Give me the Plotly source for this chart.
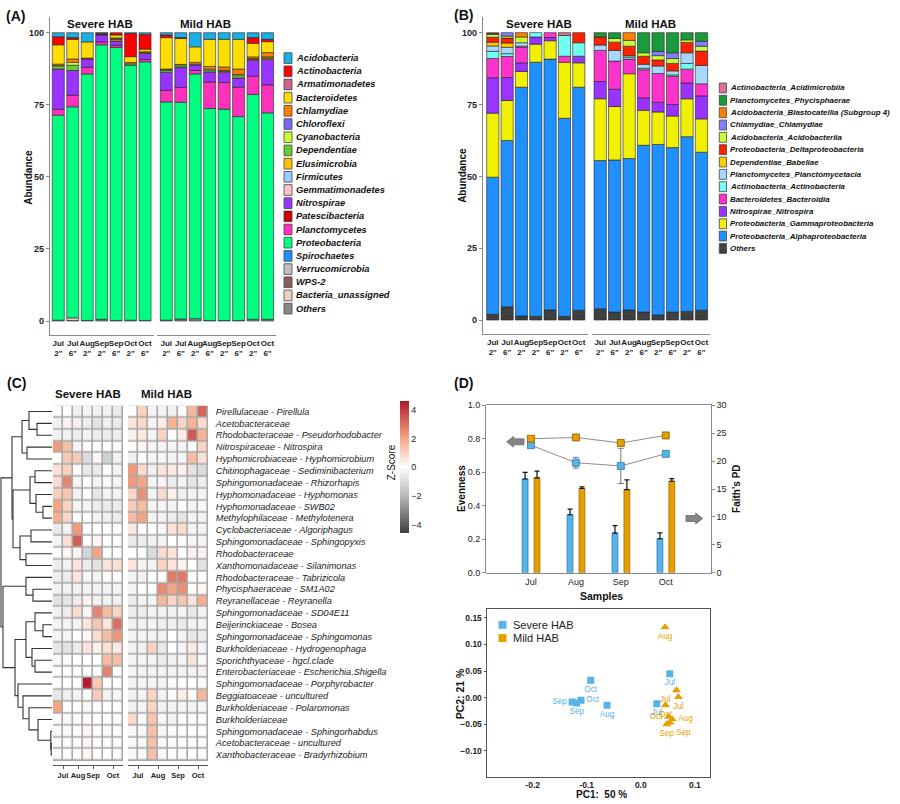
import plotly.graph_objects as go

W, H = 900, 804
def PX(v): return v / W
def PY(v): return 1 - v / H

FONT = "Liberation Sans, Arial, sans-serif"

# ---------------- Panel A data (phylum level, % abundance) ----------------
severe_samples = ['Jul<br>2"', 'Jul<br>6"', 'Aug<br>2"', 'Sep<br>2"', 'Sep<br>6"', 'Oct<br>2"', 'Oct<br>6"']
mild_samples = ['Jul<br>2"', 'Jul<br>6"', 'Aug<br>2"', 'Aug<br>6"', 'Sep<br>2"', 'Sep<br>6"', 'Oct<br>2"', 'Oct<br>6"']

phyla = ['Acidobacteria', 'Actinobacteria', 'Armatimonadetes', 'Bacteroidetes', 'Chlamydiae',
         'Chloroflexi', 'Cyanobacteria', 'Dependentiae', 'Elusimicrobia', 'Firmicutes',
         'Gemmatimonadetes', 'Nitrospirae', 'Patescibacteria', 'Planctomycetes', 'Proteobacteria',
         'Spirochaetes', 'Verrucomicrobia', 'WPS-2', 'Bacteria_unassigned', 'Others']
phyla_colors = ['#1AAFE6', '#FF0000', '#CC6688', '#FFDD00', '#FF8000',
                '#7B68EE', '#CCFF33', '#66CC33', '#FFC000', '#99CCFF',
                '#FFC0CB', '#9933FF', '#CC0000', '#FF33BB', '#00FF80',
                '#1E90FF', '#C0C0C0', '#8B5F5F', '#EBD2C8', '#888888']
a_severe = [
    [1.4, 1.7, 3.2, 0.2, 0, 0.3, 0.6],
    [2.8, 0.6, 0, 0.4, 0.8, 8.0, 5.1],
    [0, 0, 0, 0, 0, 0, 0],
    [6.7, 6.8, 5.6, 0.2, 1.0, 2.0, 0.9],
    [0.4, 1.2, 0.3, 0, 0.3, 0.5, 0.3],
    [0, 0, 0, 0, 0, 0, 0],
    [0.3, 1.0, 0, 0, 0, 0, 0],
    [1.0, 1.8, 0, 0, 0.3, 0.5, 0],
    [0, 0, 0, 0, 0.5, 0, 0.3],
    [0, 0, 0, 0, 0, 0, 0],
    [0, 0, 0, 0, 0, 0, 0],
    [14.0, 8.6, 2.9, 2.4, 1.5, 0, 2.1],
    [0, 0, 0, 0, 0, 0, 0],
    [2.0, 4.0, 2.3, 1.0, 0.7, 0, 0.8],
    [71.1, 73.2, 85.5, 95.2, 94.7, 88.4, 89.7],
    [0, 0, 0, 0, 0, 0, 0],
    [0, 0, 0, 0, 0, 0, 0],
    [0, 0, 0, 0, 0, 0, 0],
    [0, 0.9, 0, 0, 0, 0, 0],
    [0.3, 0.2, 0.2, 0.6, 0.2, 0.3, 0.2],
]
a_mild = [
    [0.8, 1.7, 4.9, 2.3, 2.3, 2.3, 1.7, 2.3],
    [0.9, 0.3, 0, 0, 0, 0, 2.0, 0.8],
    [0, 0, 0, 0, 0, 0, 0, 0],
    [10.9, 9.0, 5.4, 9.4, 9.6, 10.3, 4.7, 3.8],
    [0.2, 0.1, 0.6, 0.9, 1.1, 1.9, 0.6, 1.5],
    [0, 0, 0, 0, 0, 0, 0, 0],
    [0.3, 0.4, 0, 0.4, 0, 0.4, 0, 0],
    [0.6, 0.6, 0.3, 0.6, 0.4, 0.8, 0.3, 0.4],
    [0, 0, 0, 0, 0.3, 0, 0.3, 0.5],
    [0, 0, 0, 0, 0, 0, 0, 0],
    [0, 0, 0, 0, 0, 0, 0, 0],
    [6.3, 6.9, 1.9, 3.5, 3.6, 3.2, 5.5, 8.8],
    [0, 0, 0, 0, 0, 0, 0, 0],
    [4.0, 5.1, 1.2, 9.2, 9.2, 10.2, 6.3, 9.7],
    [75.7, 75.2, 84.9, 73.5, 73.3, 70.7, 78.0, 71.6],
    [0, 0, 0, 0, 0, 0, 0, 0],
    [0, 0, 0, 0, 0, 0, 0, 0],
    [0, 0, 0, 0, 0, 0, 0, 0],
    [0, 0, 0, 0, 0, 0, 0, 0],
    [0.3, 0.7, 0.8, 0.2, 0.2, 0.2, 0.6, 0.6],
]

# ---------------- Panel B data (class level) ----------------
classes = ['Actinobacteria_Acidimicrobiia', 'Planctomycetes_Phycisphaerae',
           'Acidobacteria_Blastocatellia (Subgroup 4)', 'Chlamydiae_Chlamydiae',
           'Acidobacteria_Acidobacteriia', 'Proteobacteria_Deltaproteobacteria',
           'Dependentiae_Babeliae', 'Planctomycetes_Planctomycetacia',
           'Actinobacteria_Actinobacteria', 'Bacteroidetes_Bacteroidia',
           'Nitrospirae_Nitrospira', 'Proteobacteria_Gammaproteobacteria',
           'Proteobacteria_Alphaproteobacteria', 'Others']
class_colors = ['#E07090', '#1A9A3A', '#FF8000', '#8080FF', '#CCFF33', '#FF2200', '#FFCC00',
                '#A8D8FF', '#70FFF0', '#FF33CC', '#9933FF', '#F0F000', '#1E90FF', '#404040']
b_severe = [
    [0.3, 0, 0, 0, 0, 1.0, 0],
    [0, 0, 0, 0, 0, 0, 0],
    [0, 0, 1.5, 0, 0, 0, 0],
    [0.3, 1.2, 0, 0, 0, 0, 0],
    [1.0, 0.7, 2.0, 0, 0, 0, 0],
    [1.7, 1.7, 0, 0, 0, 0, 3.5],
    [1.3, 1.5, 0, 0, 0, 0, 0],
    [1.9, 2.2, 1.2, 0, 0, 0, 0],
    [2.5, 1.0, 0.3, 1.5, 0, 7.2, 4.7],
    [6.7, 7.3, 5.5, 0, 1.7, 2.1, 0],
    [12.3, 8.0, 3.0, 2.5, 1.1, 0, 2.3],
    [22.3, 13.9, 5.5, 6.3, 6.4, 19.5, 8.5],
    [47.7, 57.9, 79.6, 88.4, 87.3, 68.9, 77.6],
    [2.0, 4.6, 1.4, 1.3, 3.5, 1.3, 3.4],
]
b_mild = [
    [0, 0, 0, 0, 0, 0, 0, 0],
    [1.5, 2.0, 0, 7.0, 6.5, 7.0, 2.5, 3.0],
    [0, 0, 2.7, 0, 0, 0, 0, 0],
    [0, 0, 0, 0, 1.5, 2.0, 0, 1.7],
    [0, 1.3, 2.0, 1.2, 1.5, 1.7, 0.9, 1.7],
    [2.8, 2.9, 3.3, 2.8, 2.1, 2.6, 3.6, 5.0],
    [0, 0, 0, 0, 0, 0, 0, 0],
    [1.9, 3.7, 0.5, 1.4, 2.6, 1.4, 3.7, 6.4],
    [0, 0, 0.7, 0.5, 0, 0.5, 2.0, 0],
    [10.8, 9.8, 5.1, 9.8, 10.0, 9.8, 4.8, 4.2],
    [6.0, 6.0, 0, 4.3, 3.4, 4.0, 5.5, 8.0],
    [21.5, 18.6, 29.5, 12.2, 11.3, 11.0, 13.2, 11.6],
    [51.6, 52.9, 52.7, 58.0, 59.3, 57.2, 60.8, 55.0],
    [3.9, 2.8, 3.5, 2.8, 1.8, 2.8, 3.0, 3.4],
]

# ---------------- Panel C data (heatmap z-scores) ----------------
hm_taxa = ['Pirellulaceae - Pirellula', 'Acetobacteraceae', 'Rhodobacteraceae - Pseudorhodobacter',
           'Nitrospiraceae - Nitrospira', 'Hyphomicrobiaceae - Hyphomicrobium',
           'Chitinophagaceae - Sediminibacterium', 'Sphingomonadaceae - Rhizorhapis',
           'Hyphomonadaceae - Hyphomonas', 'Hyphomonadaceae - SWB02', 'Methylophilaceae - Methylotenera',
           'Cyclobacteriaceae - Algoriphagus', 'Sphingomonadaceae - Sphingopyxis', 'Rhodobacteraceae',
           'Xanthomonadaceae - Silanimonas', 'Rhodobacteraceae - Tabrizicola', 'Phycisphaeraceae - SM1A02',
           'Reyranellaceae - Reyranella', 'Sphingomonadaceae - SD04E11', 'Beijerinckiaceae - Bosea',
           'Sphingomonadaceae - Sphingomonas', 'Burkholderiaceae - Hydrogenophaga',
           'Sporichthyaceae - hgcl.clade', 'Enterobacteriaceae - Escherichia.Shigella',
           'Sphingomonadaceae - Porphyrobacter', 'Beggiatoaceae - uncultured',
           'Burkholderiaceae - Polaromonas', 'Burkholderiaceae', 'Sphingomonadaceae - Sphingorhabdus',
           'Acetobacteraceae - uncultured', 'Xanthobacteraceae - Bradyrhizobium']
hm_severe_months = ['Jul', 'Jul', 'Aug', 'Sep', 'Sep', 'Oct', 'Oct']
hm_mild_months = ['Jul', 'Jul', 'Aug', 'Aug', 'Sep', 'Sep', 'Oct', 'Oct']
z_severe = [
    [0.0, 0.0, -0.4, -0.3, -0.4, -0.4, -0.6],
    [-0.4, 0.3, -0.4, -0.5, -0.8, -0.4, -0.6],
    [-0.4, -0.4, -0.5, -0.3, -0.5, -0.5, -0.5],
    [2.2, 1.4, -0.3, 0.0, 0.0, 0.0, -0.1],
    [0.0, 1.2, 1.2, -1.0, 0.2, -1.3, -0.4],
    [0.7, 1.0, 0.0, -0.6, -0.6, 0.0, -0.3],
    [0.8, 2.6, -0.3, 0.0, -0.3, -0.2, -0.3],
    [1.1, 1.3, -0.4, 0.0, -0.7, -0.3, -0.3],
    [2.0, 1.0, -0.3, -0.3, -0.5, -0.6, -0.5],
    [1.8, 0.9, 0.0, 0.0, -0.3, -0.4, -0.5],
    [-0.6, -0.3, 2.2, 0.0, 0.0, 0.0, 0.0],
    [-0.3, 0.7, 3.3, 0.0, 0.2, 0.0, 0.1],
    [0.1, 0.2, 0.2, -1.2, 2.0, 0.0, 0.0],
    [-0.5, -0.4, 0.6, -0.5, -0.8, 0.6, 0.7],
    [-0.5, -0.5, 0.6, -0.2, -0.3, 0.0, 0.0],
    [-0.4, -0.4, -0.4, -0.3, -0.4, -0.4, -0.3],
    [-0.8, -0.7, -0.5, 0.3, -0.3, -0.3, -0.4],
    [-0.4, -0.5, 0.8, 0.2, 2.6, 1.5, 1.0],
    [-0.3, -0.3, -0.3, 0.6, 1.3, 0.6, 3.0],
    [-0.3, -0.3, 0.0, 0.2, 0.8, 1.5, 2.3],
    [-0.7, -0.8, -0.5, 0.6, 0.3, 0.7, 0.5],
    [-0.2, -0.1, 0.0, 0.0, 0.0, 1.5, 1.5],
    [0.0, 0.0, 0.0, 0.0, 0.1, 2.6, 0.0],
    [0.0, 0.0, 0.0, 4.5, 1.2, 0.0, 0.0],
    [-0.7, -0.4, -0.3, 0.0, 1.2, -0.3, -0.2],
    [2.0, 0.0, 0.0, 0.2, 0.0, 0.0, 0.0],
    [-0.1, -0.2, -0.1, 0.1, 0.0, 0.0, -0.1],
    [-0.1, -0.1, -0.1, 0.2, 0.0, -0.1, -0.1],
    [-0.1, -0.1, -0.1, 0.2, 0.0, -0.1, -0.1],
    [-0.1, -0.1, -0.1, 0.2, 0.0, 0.0, -0.1],
]
z_mild = [
    [0.0, 1.0, -0.3, -0.3, -0.4, -0.1, 1.6, 3.2],
    [0.6, 0.9, -0.3, 0.4, 1.7, 1.0, 1.7, 0.8],
    [0.3, 0.5, -0.3, 1.0, 0.0, 0.4, 3.4, 1.7],
    [0.1, 0.2, -0.3, -0.3, -0.3, -0.3, 0.0, 1.0],
    [-0.4, 0.0, -0.3, -0.3, -0.3, -0.3, 1.5, 0.7],
    [2.2, 0.8, -0.4, 0.6, 0.5, 0.3, -0.8, -1.0],
    [2.2, 2.0, -0.3, -0.3, -0.5, -0.3, -0.7, -0.5],
    [0.9, 2.4, -0.3, 0.8, 0.3, -0.4, -0.3, -0.3],
    [1.2, 1.5, -0.3, -0.3, -0.3, 0.0, -0.3, -0.2],
    [1.5, 2.0, -0.3, -0.3, -0.5, -0.7, -0.3, -0.3],
    [0.5, 0.0, 0.0, -0.2, 0.6, 0.8, -0.3, -0.3],
    [-0.6, -0.5, -0.4, -0.3, 0.0, 0.1, -0.3, -0.3],
    [0.0, 0.0, -1.0, 0.8, 0.6, 0.0, 0.3, -0.3],
    [0.6, -0.3, -0.3, 1.0, 0.6, 0.3, 0.0, -0.8],
    [-0.4, -0.4, 0.0, 0.1, 2.8, 2.8, 0.0, 0.0],
    [-0.3, 0.0, 0.0, 2.5, 2.0, 2.4, 0.0, 0.2],
    [-0.5, -0.3, -0.3, 1.6, 0.9, 1.3, 0.6, 1.8],
    [-0.5, -0.5, -0.3, -0.4, -0.4, -0.3, -0.6, -0.4],
    [-0.4, -0.4, -0.3, -0.5, -0.4, -0.6, -0.4, -0.3],
    [-0.3, -0.3, -0.3, -0.4, 0.0, -0.3, -0.6, -0.5],
    [-0.4, -0.4, 1.0, -0.6, 0.0, -0.3, 0.5, -0.3],
    [-0.3, -0.3, -0.3, -0.5, -0.4, -0.3, 0.6, -0.2],
    [-0.3, -0.3, -0.3, -0.3, -0.3, -0.3, -0.3, -0.3],
    [-0.3, -0.3, -0.3, -0.3, -0.1, 0.0, 0.0, -0.1],
    [-0.4, -0.3, 1.0, -0.3, -0.1, 0.4, 0.0, 1.6],
    [-0.4, -0.3, 1.0, -0.4, -0.3, -0.3, -0.3, -0.2],
    [0.8, -0.1, 1.3, -0.2, -0.3, -0.1, 0.1, -0.1],
    [-0.2, -0.2, 1.4, -0.2, -0.1, 0.0, 0.0, 0.0],
    [-0.2, -0.2, 1.4, -0.2, -0.1, 0.0, 0.0, -0.1],
    [-0.2, -0.2, 1.4, -0.2, -0.1, -0.1, 0.0, -0.1],
]
# hierarchical clustering merges: (child a, child b, height); ids >= 30 are earlier merges
dend_merges = [
    (1, 2, 15), (0, 30, 23), (3, 4, 25), (31, 32, 30),
    (8, 9, 9), (7, 34, 16), (5, 6, 17), (36, 35, 22),
    (10, 11, 21), (12, 13, 26), (38, 39, 32), (37, 40, 39), (33, 41, 40),
    (15, 16, 19), (14, 43, 26),
    (18, 19, 9), (17, 45, 17), (21, 22, 17), (20, 47, 20), (46, 48, 26),
    (28, 29, 0.8), (27, 50, 1.2), (26, 51, 14), (25, 52, 23), (24, 53, 29), (23, 54, 34),
    (49, 55, 37), (44, 56, 49), (42, 57, 51),
]

# ---------------- Panel D data ----------------
months = ['Jul', 'Aug', 'Sep', 'Oct']
pd_severe = [16.8, 10.4, 7.1, 6.1]
pd_severe_err = [1.2, 1.0, 1.35, 1.05]
pd_mild = [17.0, 15.1, 14.9, 16.4]
pd_mild_err = [1.2, 0.3, 1.75, 0.45]
even_severe = [0.762, 0.657, 0.638, 0.710]
even_severe_err = [0.0, 0.032, 0.105, 0.0]
even_mild = [0.800, 0.808, 0.775, 0.820]
even_mild_err = [0.0, 0.0, 0.01, 0.0]

pca_sev_x = [-0.0926, -0.127, -0.1185, -0.1106, -0.0624, 0.0537, 0.0296]
pca_sev_y = [0.0327, -0.0082, -0.010, -0.005, -0.0143, 0.0446, -0.0118]
pca_sev_lab = ['Oct', 'Sep', 'Sep', 'Oct', 'Aug', 'Jul', 'Jul']
pca_sev_pos = ['bottom center', 'middle left', 'bottom center', 'middle right',
               'bottom center', 'bottom center', 'bottom center']
pca_mild_x = [0.045, 0.066, 0.0696, 0.0456, 0.0511, 0.058, 0.048, 0.054]
pca_mild_y = [0.1325, 0.0136, 0.001, -0.0143, -0.036, -0.041, -0.050, -0.047]
pca_mild_lab = ['Aug', 'Jul', 'Jul', 'Oct', 'Oct', 'Aug', 'Sep', 'Sep']
pca_mild_pos = ['bottom center', 'bottom left', 'bottom center', 'bottom center',
                'middle left', 'middle right', 'bottom center', 'bottom right']

BLUE = '#56B4E9'
ORANGE = '#E69F00'

fig = go.Figure()

def stack_bases(matrix):
    """cumulative base for each category; the last category sits at the bottom"""
    base = [0.0] * len(matrix[0])
    out = [None] * len(matrix)
    for i in reversed(range(len(matrix))):
        out[i] = list(base)
        base = [b + v for b, v in zip(base, matrix[i])]
    return out

def nz(vals):
    return [v if v > 0 else None for v in vals]

# ---------------- Panel A bars ----------------
a_sev_base = stack_bases(a_severe)
a_mild_base = stack_bases(a_mild)
for i in reversed(range(len(phyla))):
    for xs, vals, bs, xa in ((severe_samples, a_severe[i], a_sev_base[i], 'x'),
                             (mild_samples, a_mild[i], a_mild_base[i], 'x2')):
        fig.add_trace(go.Bar(x=xs, y=nz(vals), base=bs, xaxis=xa, yaxis='y', width=0.83,
                             marker=dict(color=phyla_colors[i], line=dict(color='#222222', width=0.6)),
                             showlegend=False, hoverinfo='skip'))

# ---------------- Panel B bars ----------------
b_sev_base = stack_bases(b_severe)
b_mild_base = stack_bases(b_mild)
for i in reversed(range(len(classes))):
    for xs, vals, bs, xa in ((severe_samples, b_severe[i], b_sev_base[i], 'x3'),
                             (mild_samples, b_mild[i], b_mild_base[i], 'x4')):
        fig.add_trace(go.Bar(x=xs, y=nz(vals), base=bs, xaxis=xa, yaxis='y3', width=0.85,
                             marker=dict(color=class_colors[i], line=dict(color='#222222', width=0.6)),
                             showlegend=False, hoverinfo='skip'))

# ---------------- Panel C heatmap + dendrogram ----------------
fig.add_trace(go.Heatmap(z=z_severe, x=list(range(len(hm_severe_months))), y=list(range(len(hm_taxa))),
                         xaxis='x5', yaxis='y5', coloraxis='coloraxis', xgap=1.6, ygap=1.6,
                         hoverinfo='skip'))
fig.add_trace(go.Heatmap(z=z_mild, x=list(range(len(hm_mild_months))), y=list(range(len(hm_taxa))),
                         xaxis='x6', yaxis='y5', coloraxis='coloraxis', xgap=1.6, ygap=1.6,
                         hoverinfo='skip'))

n_leaf = len(hm_taxa)
node_pos = {i: (0.0, float(i)) for i in range(n_leaf)}
dx, dy = [], []
for k, (a, b, h) in enumerate(dend_merges):
    ha, ya = node_pos[a]
    hb, yb = node_pos[b]
    dx += [ha, h, h, hb, None]
    dy += [ya, ya, yb, yb, None]
    node_pos[n_leaf + k] = (h, (ya + yb) / 2)
fig.add_trace(go.Scatter(x=dx, y=dy, mode='lines', xaxis='x7', yaxis='y5',
                         line=dict(color='#333333', width=1.1), showlegend=False, hoverinfo='skip'))

def month_centers(ms):
    out_v, out_t = [], []
    for m in dict.fromkeys(ms):
        idx = [j for j, mm in enumerate(ms) if mm == m]
        out_v.append(sum(idx) / len(idx))
        out_t.append(m)
    return out_v, out_t

sv, st = month_centers(hm_severe_months)
mv, mt = month_centers(hm_mild_months)

# ---------------- Panel D top: bars (Faith's PD, right axis) + lines (evenness, left axis) ----------------
mx = list(range(1, len(months) + 1))
fig.add_trace(go.Bar(x=mx, y=pd_severe, xaxis='x8', yaxis='y8', width=0.13, offset=-0.195,
                     marker=dict(color=BLUE, line=dict(color='#2a7ab0', width=0.8)),
                     error_y=dict(type='data', array=pd_severe_err, arrayminus=[0] * 4, symmetric=False,
                                  color='#111111', thickness=1.2, width=2.5),
                     showlegend=False, hoverinfo='skip'))
fig.add_trace(go.Bar(x=mx, y=pd_mild, xaxis='x8', yaxis='y8', width=0.13, offset=0.07,
                     marker=dict(color=ORANGE, line=dict(color='#a06a00', width=0.8)),
                     error_y=dict(type='data', array=pd_mild_err, arrayminus=[0] * 4, symmetric=False,
                                  color='#111111', thickness=1.2, width=2.5),
                     showlegend=False, hoverinfo='skip'))
fig.add_trace(go.Scatter(x=mx, y=even_severe, xaxis='x9', yaxis='y9', mode='lines+markers',
                         line=dict(color='#8c8c8c', width=1),
                         marker=dict(symbol='square', size=7, color=BLUE, line=dict(color='#2a7ab0', width=0.8)),
                         error_y=dict(type='data', array=even_severe_err, color='#777777', thickness=1, width=3),
                         showlegend=False, hoverinfo='skip'))
fig.add_trace(go.Scatter(x=mx, y=even_mild, xaxis='x9', yaxis='y9', mode='lines+markers',
                         line=dict(color='#8c8c8c', width=1),
                         marker=dict(symbol='square', size=7, color=ORANGE, line=dict(color='#8a5a00', width=0.8)),
                         error_y=dict(type='data', array=even_mild_err, color='#555555', thickness=1, width=3),
                         showlegend=False, hoverinfo='skip'))

# ---------------- Panel D bottom: PCA ----------------
fig.add_trace(go.Scatter(x=pca_sev_x, y=pca_sev_y, xaxis='x10', yaxis='y10', mode='markers+text',
                         text=pca_sev_lab, textposition=pca_sev_pos,
                         textfont=dict(size=8.2, color=BLUE, family=FONT),
                         marker=dict(symbol='square', size=7, color=BLUE),
                         showlegend=False, hoverinfo='skip'))
fig.add_trace(go.Scatter(x=pca_mild_x, y=pca_mild_y, xaxis='x10', yaxis='y10', mode='markers+text',
                         text=pca_mild_lab, textposition=pca_mild_pos,
                         textfont=dict(size=8.2, color=ORANGE, family=FONT),
                         marker=dict(symbol='triangle-up', size=8, color=ORANGE),
                         showlegend=False, hoverinfo='skip'))

# ---------------- Axes ----------------
GREY = '#8a8a8a'
bar_x_common = dict(showline=True, linecolor=GREY, linewidth=1.2, ticks='', showgrid=False, zeroline=False,
                    tickangle=0, tickfont=dict(size=8, color='#222222', weight='bold'),
                    type='category', fixedrange=True)
bar_y_common = dict(showline=True, linecolor=GREY, linewidth=1.2, ticks='outside', ticklen=3, tickcolor=GREY,
                    showgrid=False, zeroline=False, range=[-4.8, 105.5], tickvals=[0, 25, 50, 75, 100],
                    tickfont=dict(size=9, color='#222222', weight='bold'))
hm_x_common = dict(anchor='free', position=PY(770), showline=True, linecolor='#555555', linewidth=1,
                   ticks='outside', ticklen=3, tickcolor='#555555', tickangle=0, showgrid=False,
                   zeroline=False, tickfont=dict(size=7.5, color='#222222', weight='bold'))

DT_X = [PX(486), PX(710.7)]
DT_Y = [PY(575), PY(405.3)]

layout_axes = dict(
    xaxis=dict(domain=[PX(50), PX(154)], range=[-0.575, 6.62], anchor='y', **bar_x_common),
    xaxis2=dict(domain=[PX(157), PX(276)], range=[-0.643, 7.586], anchor='y', **bar_x_common),
    yaxis=dict(domain=[PY(334), PY(12)], anchor='x', **bar_y_common),
    xaxis3=dict(domain=[PX(483), PX(588)], range=[-0.684, 6.643], anchor='y3', **bar_x_common),
    xaxis4=dict(domain=[PX(592), PX(710)], range=[-0.567, 7.588], anchor='y3', **bar_x_common),
    yaxis3=dict(domain=[PY(333), PY(12)], anchor='x3', **bar_y_common),
    xaxis5=dict(domain=[PX(53), PX(123)], range=[-0.5, 6.5], tickvals=sv, ticktext=st, **hm_x_common),
    xaxis6=dict(domain=[PX(128), PX(208)], range=[-0.5, 7.5], tickvals=mv, ticktext=mt, **hm_x_common),
    yaxis5=dict(domain=[PY(765.5), PY(405.7)], range=[len(hm_taxa) - 0.5, -0.5], anchor='x6', side='right',
                tickvals=list(range(len(hm_taxa))), ticktext=['<i>%s</i>' % t for t in hm_taxa],
                ticks='outside', ticklen=5, tickcolor='rgba(0,0,0,0)', showgrid=False, zeroline=False,
                showline=False, tickfont=dict(size=9.2, color='#222222')),
    xaxis7=dict(domain=[0, PX(52)], range=[52, 0], anchor='y5', visible=False),
    # D top: bars subplot (x8 / y8 right axis)
    xaxis8=dict(domain=DT_X, range=[0, 5], anchor='y8', tickvals=mx, ticktext=months,
                showline=True, mirror=True, linecolor=GREY, linewidth=1, ticks='', showgrid=False,
                zeroline=False, tickfont=dict(size=9, color='#222222')),
    yaxis8=dict(domain=DT_Y, range=[0, 30], anchor='x8', side='right', dtick=5,
                showline=True, linecolor=GREY, linewidth=1, ticks='outside', ticklen=3, tickcolor=GREY,
                showgrid=False, zeroline=False, tickfont=dict(size=9, color='#222222')),
    # D top: lines subplot (x9 hidden / y9 left axis)
    xaxis9=dict(domain=DT_X, range=[0, 5], anchor='y9', visible=False),
    yaxis9=dict(domain=DT_Y, range=[0, 1], anchor='x9', side='left', dtick=0.2, tickformat='.1f',
                showline=True, linecolor=GREY, linewidth=1, ticks='outside', ticklen=3, tickcolor=GREY,
                showgrid=False, zeroline=False, tickfont=dict(size=9, color='#222222')),
    xaxis10=dict(domain=[PX(486.7), PX(710)], range=[-0.285, 0.128], anchor='y10',
                 tickvals=[-0.2, -0.1, 0.0, 0.1], ticktext=['-0.2', '-0.1', '0.0', '0.1'],
                 showline=True, mirror=True, linecolor='#555555', linewidth=1.3, ticks='',
                 showgrid=False, zeroline=False,
                 tickfont=dict(size=8.5, color='#222222', weight='bold')),
    yaxis10=dict(domain=[PY(781.7), PY(611.7)], range=[-0.1494, 0.1665], anchor='x10',
                 tickvals=[-0.10, -0.05, 0.0, 0.05, 0.10, 0.15], tickformat='.2f',
                 showline=True, mirror=True, linecolor='#555555', linewidth=1.3, ticks='outside', ticklen=2,
                 tickcolor='#555555', showgrid=False, zeroline=False,
                 tickfont=dict(size=8.5, color='#222222', weight='bold')),
)

# ---------------- Annotations & shapes ----------------
annotations = []
shapes = []

def ann(text, x, y, size, bold=False, italic=False, xanchor='center', yanchor='middle', angle=0,
        color='#111111'):
    t = text
    if italic:
        t = '<i>%s</i>' % t
    if bold:
        t = '<b>%s</b>' % t
    annotations.append(dict(text=t, x=PX(x), y=PY(y), xref='paper', yref='paper', showarrow=False,
                            xanchor=xanchor, yanchor=yanchor, textangle=angle,
                            font=dict(size=size, color=color, family=FONT)))

# panel labels
ann('(A)', 4, 11, 14, bold=True, xanchor='left')
ann('(B)', 452, 10, 14, bold=True, xanchor='left')
ann('(C)', 5, 383, 14, bold=True, xanchor='left')
ann('(D)', 452, 383, 14, bold=True, xanchor='left')

# facet titles
ann('Severe HAB', 100, 19, 11.5, bold=True)
ann('Mild HAB', 205, 19, 11.5, bold=True)
ann('Severe HAB', 538.5, 19, 11.5, bold=True)
ann('Mild HAB', 650, 19, 11.5, bold=True)
ann('Severe HAB', 88, 394, 11.5, bold=True)
ann('Mild HAB', 166, 394, 11.5, bold=True)

# axis titles
ann('Abundance', 29, 175, 10, bold=True, angle=-90)
ann('Abundance', 463, 173, 10, bold=True, angle=-90)
ann('Z-Score', 391, 463, 10, angle=-90)
ann('Evenness', 462, 490, 10, bold=True, angle=-90)
ann("Faith's PD", 737, 490, 10, bold=True, angle=-90)
ann('Samples', 601, 598, 10.5, bold=True)
ann('PC1:  50 %', 601, 799.5, 10, bold=True)
ann('PC2: 21 %', 460, 697, 10.5, bold=True, angle=-90)

# legend A
for i, name in enumerate(phyla):
    yc = 53.8 + i * 13.35
    shapes.append(dict(type='rect', xref='paper', yref='paper', x0=PX(284), x1=PX(292),
                       y0=PY(yc + 5.4), y1=PY(yc - 5.4), fillcolor=phyla_colors[i],
                       line=dict(color='#444444', width=0.8)))
    ann(name, 293.5, yc, 9.3, bold=True, italic=True, xanchor='left')

# legend B
for i, name in enumerate(classes):
    yc = 84 + i * 12.5
    shapes.append(dict(type='rect', xref='paper', yref='paper', x0=PX(719.3), x1=PX(726.5),
                       y0=PY(yc + 5), y1=PY(yc - 5), fillcolor=class_colors[i],
                       line=dict(color='#444444', width=0.8)))
    ann(name, 728, yc, 7.9, bold=True, italic=True, xanchor='left')

# legend PCA
for yc, col, name in ((627.7, BLUE, 'Severe HAB'), (641, ORANGE, 'Mild HAB')):
    shapes.append(dict(type='rect', xref='paper', yref='paper', x0=PX(498.5), x1=PX(506.5),
                       y0=PY(yc + 4), y1=PY(yc - 4), fillcolor=col, line=dict(width=0)))
    ann(name, 510.5, yc, 11, xanchor='left', color='#222222')

# heatmap grey cell-border backgrounds
for xa, ncol in (('x5', len(hm_severe_months)), ('x6', len(hm_mild_months))):
    shapes.append(dict(type='rect', xref=xa, yref='y5', x0=-0.62, x1=ncol - 0.38,
                       y0=-0.6, y1=len(hm_taxa) - 0.4, fillcolor='#a9a9a9',
                       line=dict(width=0), layer='below'))

# block arrows in panel D
def block_arrow(tail, tip, yc):
    d = 1 if tip > tail else -1
    hb = tip - d * 7
    pts = [(tail, yc - 3), (hb, yc - 3), (hb, yc - 5.5), (tip, yc), (hb, yc + 5.5), (hb, yc + 3), (tail, yc + 3)]
    path = 'M ' + ' L '.join('%.5f,%.5f' % (PX(px), PY(py)) for px, py in pts) + ' Z'
    shapes.append(dict(type='path', xref='paper', yref='paper', path=path, fillcolor='#858585',
                       line=dict(color='#6a6a6a', width=0.8)))

block_arrow(524, 506.7, 442.3)
block_arrow(686, 702.7, 520)

fig.update_layout(
    width=W, height=H, margin=dict(l=0, r=0, t=0, b=0),
    paper_bgcolor='white', plot_bgcolor='rgba(0,0,0,0)',
    font=dict(family=FONT, color='#222222'),
    barmode='overlay', showlegend=False, hovermode=False,
    coloraxis=dict(colorscale=[[0.0, '#3f3f3f'], [0.28, '#b8b8b8'], [0.5, '#ffffff'],
                               [0.72, '#f4a582'], [1.0, '#b2182b']],
                   cmin=-4.6, cmax=4.6,
                   colorbar=dict(x=PX(400), xanchor='left', y=PY(468), yanchor='middle',
                                 len=134 / 804, lenmode='fraction', thickness=9, thicknessmode='pixels',
                                 xpad=0, ypad=0, outlinewidth=0, tickvals=[-4, -2, 0, 2, 4], ticks='',
                                 tickfont=dict(size=9, color='#222222'))),
    annotations=annotations, shapes=shapes,
    **layout_axes,
)

fig.write_html("out.html", config={'displayModeBar': False},
               post_script="document.body.style.margin='0';document.body.style.padding='0';")
